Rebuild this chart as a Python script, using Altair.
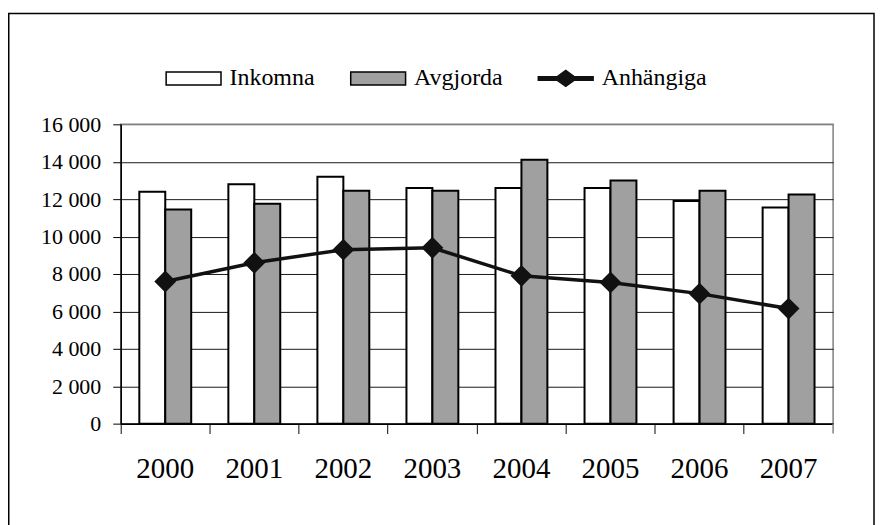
import altair as alt
import pandas as pd

years = ["2000", "2001", "2002", "2003", "2004", "2005", "2006", "2007"]
inkomna = [12400, 12800, 13200, 12600, 12600, 12600, 11900, 11550]
avgjorda = [11450, 11750, 12450, 12450, 14100, 13000, 12450, 12250]
anhangiga = [7600, 8600, 9300, 9400, 7900, 7550, 6950, 6150]
series_names = ["Inkomna", "Avgjorda", "Anhängiga"]
y_ticks = [0, 2000, 4000, 6000, 8000, 10000, 12000, 14000, 16000]

FONT = "Liberation Serif"
GRAY = "#a0a0a0"

bars_df = pd.DataFrame(
    [{"year": y, "series": "Inkomna", "value": v} for y, v in zip(years, inkomna)]
    + [{"year": y, "series": "Avgjorda", "value": v} for y, v in zip(years, avgjorda)]
)
line_df = pd.DataFrame({"year": years, "series": "Anhängiga", "value": anhangiga})
legend_df = pd.DataFrame({"series": series_names})
one_df = pd.DataFrame({"a": [0]})

x_axis = alt.Axis(
    labelAngle=0,
    labelFont=FONT,
    labelFontSize=29,
    labelColor="black",
    labelPadding=21,
    tickSize=10,
    tickColor="#333",
    tickWidth=1.2,
    domainColor="black",
    domainWidth=1.5,
    bandPosition=0,
    grid=False,
)
y_axis = alt.Axis(
    values=y_ticks,
    labelExpr="replace(format(datum.value, ','), ',', ' ')",
    labelFont=FONT,
    labelFontSize=22,
    labelColor="black",
    labelPadding=12,
    labelOverlap=False,
    labelBound=False,
    tickSize=8,
    tickColor="black",
    domainColor="black",
    domainWidth=1.5,
    grid=True,
    gridColor={"condition": {"test": "datum.value >= 16000", "value": "#808080"}, "value": "#1a1a1a"},
    gridWidth=1,
)


def x_enc():
    return alt.X("year:N", sort=years, title=None,
                 scale=alt.Scale(paddingInner=0, paddingOuter=0), axis=x_axis)


def y_enc():
    return alt.Y("value:Q", title=None,
                 scale=alt.Scale(domain=[0, 16000], nice=False), axis=y_axis)


bars = alt.Chart(bars_df).mark_bar(stroke="black", strokeWidth=2).encode(
    x=x_enc(),
    y=y_enc(),
    xOffset=alt.XOffset(
        "series:N",
        sort=["Inkomna", "Avgjorda"],
        scale=alt.Scale(domain=["Inkomna", "Avgjorda"], paddingInner=0, paddingOuter=0.716),
    ),
    fill=alt.Fill(
        "series:N",
        scale=alt.Scale(domain=["Inkomna", "Avgjorda"], range=["white", GRAY]),
        legend=None,
    ),
)

line = alt.Chart(line_df).mark_line(color="#111", strokeWidth=3.5).encode(
    x=x_enc(),
    y=y_enc(),
)
points = alt.Chart(line_df).mark_point(
    shape="diamond", filled=True, size=480, color="#111", opacity=1
).encode(
    x=x_enc(),
    y=y_enc(),
)

rect_path = "M-4.23,-1H4.23V1H-4.23Z"
line_path = "M-4.23,-0.27H4.23V0.27H-4.23Z M0,-1.23L1.69,0L0,1.23L-1.69,0Z"

leg = alt.Legend(
    title=None,
    orient="none",
    legendX=41,
    legendY=-58,
    direction="horizontal",
    columns=3,
    columnPadding=31,
    symbolSize=169,
    symbolOffset=20,
    labelOffset=24,
    symbolStrokeWidth=1.5,
    symbolOpacity=1,
    labelFont=FONT,
    labelFontSize=24,
    labelColor="black",
    labelLimit=0,
    padding=0,
)

legend_layer = alt.Chart(legend_df).mark_point(
    filled=True, opacity=1, strokeWidth=1.5
).encode(
    shape=alt.Shape(
        "series:N",
        sort=series_names,
        scale=alt.Scale(domain=series_names, range=[rect_path, rect_path, line_path]),
        legend=leg,
    ),
    fill=alt.Fill(
        "series:N",
        sort=series_names,
        scale=alt.Scale(domain=series_names, range=["white", GRAY, "#111"]),
        legend=leg,
    ),
    stroke=alt.Stroke(
        "series:N",
        sort=series_names,
        scale=alt.Scale(domain=series_names, range=["black", "black", "#111"]),
        legend=leg,
    ),
).transform_filter("false")

right_tick = alt.Chart(one_df).mark_rule(color="#808080", strokeWidth=1.5).encode(
    x=alt.value(714), y=alt.value(300), y2=alt.value(310)
)

frame = alt.Chart(one_df).mark_rect(
    fillOpacity=0, stroke="black", strokeWidth=1.5
).encode(
    x=alt.value(-112.25), x2=alt.value(755), y=alt.value(-111), y2=alt.value(420)
)

chart = (
    alt.layer(frame, bars, line, points, legend_layer, right_tick)
    .resolve_scale(fill="independent", shape="independent", stroke="independent")
    .properties(
        width=714,
        height=300,
        autosize=alt.AutoSizeParams(type="none"),
        padding={"left": 113, "top": 116, "right": 43, "bottom": 101},
        background="white",
    )
    .configure(font=FONT)
    .configure_axis(labelFont=FONT)
    .configure_axisY(labelFont=FONT)
    .configure_axisQuantitative(labelFont=FONT)
    .configure_legend(labelFont=FONT)
    .configure_view(stroke="#808080", strokeWidth=1.5)
)

chart.save("out.html", embed_options={"renderer": "svg", "actions": False})
